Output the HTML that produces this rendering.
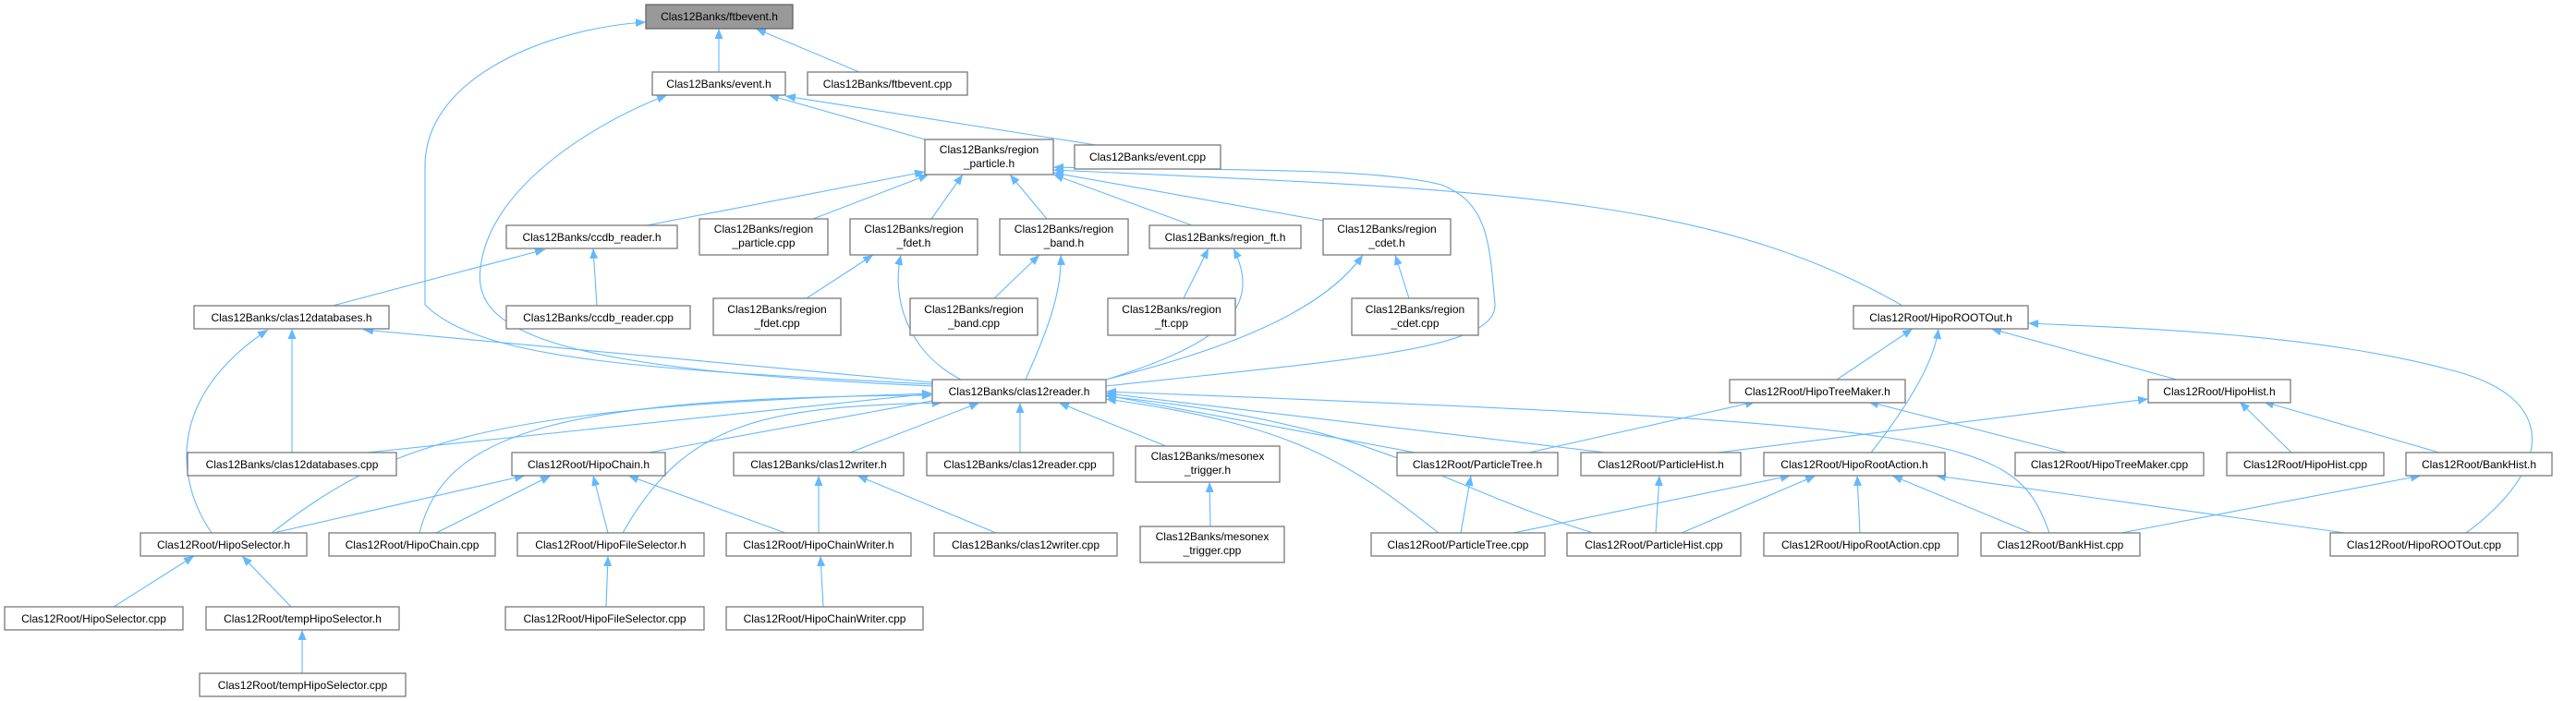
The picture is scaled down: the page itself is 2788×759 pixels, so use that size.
<!DOCTYPE html>
<html><head><meta charset="utf-8"><style>
html,body{margin:0;padding:0;background:#fff;}
svg{display:block;}
text{font-family:"Liberation Sans",Arial,sans-serif;font-size:12px;fill:#000;text-anchor:middle;}
.b{fill:#fff;stroke:#7a7a7a;stroke-width:1.3;}
.e{fill:none;stroke:#63b8ff;stroke-width:1.1;marker-end:url(#a);}
</style></head><body>
<svg width="2788" height="759" viewBox="0 0 2788 759" xmlns="http://www.w3.org/2000/svg">
<defs><marker id="a" markerUnits="userSpaceOnUse" markerWidth="12" markerHeight="10" refX="11" refY="4.5" orient="auto"><path d="M0,0 L11,4.5 L0,9 z" fill="#63b8ff"/></marker></defs>
<g>
<path class="e" d="M778,78 L778,31"/>
<path class="e" d="M930,78 L818,31"/>
<path class="e" d="M1009,416 C700,400 520,390 460,330 L460,180 C460,80 600,30 699,24"/>
<path class="e" d="M1009,418 C600,400 510,360 520,290 C530,200 650,130 722,103"/>
<path class="e" d="M1001,151 L832,103"/>
<path class="e" d="M1186,157 L850,104"/>
<path class="e" d="M700,244 L1001,186"/>
<path class="e" d="M880,237 L1005,189"/>
<path class="e" d="M1008,237 L1042,189"/>
<path class="e" d="M1133,237 L1093,189"/>
<path class="e" d="M1290,244 L1140,189"/>
<path class="e" d="M1432,239 L1140,187"/>
<path class="e" d="M2059,331 C1850,210 1600,205 1140,184"/>
<path class="e" d="M1197,418 C1450,390 1620,380 1618,330 C1612,260 1610,220 1560,200 C1480,180 1300,185 1140,181"/>
<path class="e" d="M360,331 L590,270"/>
<path class="e" d="M646,331 L642,269"/>
<path class="e" d="M873,323 L945,276"/>
<path class="e" d="M1040,411 C980,380 965,320 975,276"/>
<path class="e" d="M1076,323 L1125,276"/>
<path class="e" d="M1110,411 C1128,370 1150,320 1148,276"/>
<path class="e" d="M1281,323 L1308,269"/>
<path class="e" d="M1197,411 C1330,370 1365,330 1335,269"/>
<path class="e" d="M1525,323 L1510,276"/>
<path class="e" d="M1197,411 C1320,380 1430,340 1475,276"/>
<path class="e" d="M1009,414 L393,357"/>
<path class="e" d="M316,490 L316,356"/>
<path class="e" d="M229,577 C190,520 180,430 290,357"/>
<path class="e" d="M1988,411 L2070,356"/>
<path class="e" d="M2025,490 C2080,420 2095,380 2098,356"/>
<path class="e" d="M2356,411 L2155,356"/>
<path class="e" d="M2669,577 C2760,510 2775,430 2650,400 C2500,360 2300,355 2195,350"/>
<path class="e" d="M397,490 L1009,426"/>
<path class="e" d="M702,490 L1020,432"/>
<path class="e" d="M920,490 L1060,436"/>
<path class="e" d="M1104,490 L1104,436"/>
<path class="e" d="M1262,483 L1146,436"/>
<path class="e" d="M294,577 C420,480 520,440 1009,426"/>
<path class="e" d="M454,577 C480,470 600,430 1009,428"/>
<path class="e" d="M674,577 C740,460 820,440 1020,436"/>
<path class="e" d="M1532,490 L1197,428"/>
<path class="e" d="M1738,490 L1197,426"/>
<path class="e" d="M1557,577 C1460,500 1400,460 1197,432"/>
<path class="e" d="M1724,577 C1540,520 1500,460 1197,429"/>
<path class="e" d="M2218,577 C2180,470 2130,460 1197,424"/>
<path class="e" d="M296,577 L568,515"/>
<path class="e" d="M472,577 L596,515"/>
<path class="e" d="M658,577 L642,515"/>
<path class="e" d="M850,577 L680,515"/>
<path class="e" d="M886,577 L886,515"/>
<path class="e" d="M1078,577 L928,515"/>
<path class="e" d="M1310,570 L1309,522"/>
<path class="e" d="M123,657 L210,602"/>
<path class="e" d="M315,657 L262,602"/>
<path class="e" d="M327,729 L327,682"/>
<path class="e" d="M656,657 L658,602"/>
<path class="e" d="M891,657 L888,602"/>
<path class="e" d="M1655,490 L1900,435"/>
<path class="e" d="M2237,490 L2022,435"/>
<path class="e" d="M1859,490 L2325,432"/>
<path class="e" d="M2480,490 L2424,435"/>
<path class="e" d="M2640,490 L2450,435"/>
<path class="e" d="M1581,577 L1592,515"/>
<path class="e" d="M1792,577 L1796,515"/>
<path class="e" d="M1638,577 L1938,515"/>
<path class="e" d="M1820,577 L1965,515"/>
<path class="e" d="M2013,577 L2010,515"/>
<path class="e" d="M2198,577 L2048,515"/>
<path class="e" d="M2538,577 L2095,515"/>
<path class="e" d="M2296,577 L2620,515"/>
</g>
<g>
<rect x="699" y="5" width="159" height="26" fill="#999" stroke="#666" stroke-width="1.3"/><text x="778.5" y="22">Clas12Banks/ftbevent.h</text>
<rect class="b" x="706" y="78" width="144" height="25"/><text x="778" y="95">Clas12Banks/event.h</text>
<rect class="b" x="874" y="78" width="173" height="25"/><text x="960.5" y="95">Clas12Banks/ftbevent.cpp</text>
<rect class="b" x="1001" y="151" width="139" height="38"/><text x="1070.5" y="166">Clas12Banks/region</text><text x="1070.5" y="181">_particle.h</text>
<rect class="b" x="1163" y="157" width="158" height="26"/><text x="1242" y="174">Clas12Banks/event.cpp</text>
<rect class="b" x="548" y="244" width="185" height="25"/><text x="640.5" y="261">Clas12Banks/ccdb_reader.h</text>
<rect class="b" x="757" y="237" width="139" height="39"/><text x="826.5" y="252">Clas12Banks/region</text><text x="826.5" y="267">_particle.cpp</text>
<rect class="b" x="920" y="237" width="138" height="39"/><text x="989" y="252">Clas12Banks/region</text><text x="989" y="267">_fdet.h</text>
<rect class="b" x="1082" y="237" width="139" height="39"/><text x="1151.5" y="252">Clas12Banks/region</text><text x="1151.5" y="267">_band.h</text>
<rect class="b" x="1244" y="244" width="164" height="25"/><text x="1326" y="261">Clas12Banks/region_ft.h</text>
<rect class="b" x="1432" y="237" width="138" height="39"/><text x="1501" y="252">Clas12Banks/region</text><text x="1501" y="267">_cdet.h</text>
<rect class="b" x="210" y="331" width="211" height="25"/><text x="315.5" y="348">Clas12Banks/clas12databases.h</text>
<rect class="b" x="548" y="331" width="199" height="25"/><text x="647.5" y="348">Clas12Banks/ccdb_reader.cpp</text>
<rect class="b" x="772" y="323" width="138" height="40"/><text x="841" y="339">Clas12Banks/region</text><text x="841" y="354">_fdet.cpp</text>
<rect class="b" x="985" y="323" width="138" height="40"/><text x="1054" y="339">Clas12Banks/region</text><text x="1054" y="354">_band.cpp</text>
<rect class="b" x="1199" y="323" width="138" height="40"/><text x="1268" y="339">Clas12Banks/region</text><text x="1268" y="354">_ft.cpp</text>
<rect class="b" x="1463" y="323" width="137" height="40"/><text x="1531.5" y="339">Clas12Banks/region</text><text x="1531.5" y="354">_cdet.cpp</text>
<rect class="b" x="2006" y="331" width="189" height="25"/><text x="2100.5" y="348">Clas12Root/HipoROOTOut.h</text>
<rect class="b" x="1009" y="411" width="188" height="25"/><text x="1103" y="428">Clas12Banks/clas12reader.h</text>
<rect class="b" x="1872" y="411" width="190" height="25"/><text x="1967" y="428">Clas12Root/HipoTreeMaker.h</text>
<rect class="b" x="2325" y="411" width="154" height="25"/><text x="2402" y="428">Clas12Root/HipoHist.h</text>
<rect class="b" x="203" y="490" width="226" height="25"/><text x="316" y="507">Clas12Banks/clas12databases.cpp</text>
<rect class="b" x="554" y="490" width="166" height="25"/><text x="637" y="507">Clas12Root/HipoChain.h</text>
<rect class="b" x="794" y="490" width="184" height="25"/><text x="886" y="507">Clas12Banks/clas12writer.h</text>
<rect class="b" x="1003" y="490" width="202" height="25"/><text x="1104" y="507">Clas12Banks/clas12reader.cpp</text>
<rect class="b" x="1229" y="483" width="156" height="39"/><text x="1307" y="498">Clas12Banks/mesonex</text><text x="1307" y="513">_trigger.h</text>
<rect class="b" x="1512" y="490" width="174" height="25"/><text x="1599" y="507">Clas12Root/ParticleTree.h</text>
<rect class="b" x="1711" y="490" width="173" height="25"/><text x="1797.5" y="507">Clas12Root/ParticleHist.h</text>
<rect class="b" x="1909" y="490" width="196" height="25"/><text x="2007" y="507">Clas12Root/HipoRootAction.h</text>
<rect class="b" x="2181" y="490" width="204" height="25"/><text x="2283" y="507">Clas12Root/HipoTreeMaker.cpp</text>
<rect class="b" x="2410" y="490" width="170" height="25"/><text x="2495" y="507">Clas12Root/HipoHist.cpp</text>
<rect class="b" x="2604" y="490" width="158" height="25"/><text x="2683" y="507">Clas12Root/BankHist.h</text>
<rect class="b" x="152" y="577" width="180" height="25"/><text x="242" y="594">Clas12Root/HipoSelector.h</text>
<rect class="b" x="356" y="577" width="180" height="25"/><text x="446" y="594">Clas12Root/HipoChain.cpp</text>
<rect class="b" x="560" y="577" width="202" height="25"/><text x="661" y="594">Clas12Root/HipoFileSelector.h</text>
<rect class="b" x="786" y="577" width="200" height="25"/><text x="886" y="594">Clas12Root/HipoChainWriter.h</text>
<rect class="b" x="1011" y="577" width="198" height="25"/><text x="1110" y="594">Clas12Banks/clas12writer.cpp</text>
<rect class="b" x="1234" y="570" width="156" height="39"/><text x="1312" y="585">Clas12Banks/mesonex</text><text x="1312" y="600">_trigger.cpp</text>
<rect class="b" x="1484" y="577" width="188" height="25"/><text x="1578" y="594">Clas12Root/ParticleTree.cpp</text>
<rect class="b" x="1696" y="577" width="188" height="25"/><text x="1790" y="594">Clas12Root/ParticleHist.cpp</text>
<rect class="b" x="1909" y="577" width="210" height="25"/><text x="2014" y="594">Clas12Root/HipoRootAction.cpp</text>
<rect class="b" x="2144" y="577" width="172" height="25"/><text x="2230" y="594">Clas12Root/BankHist.cpp</text>
<rect class="b" x="2522" y="577" width="203" height="25"/><text x="2623.5" y="594">Clas12Root/HipoROOTOut.cpp</text>
<rect class="b" x="5" y="657" width="193" height="25"/><text x="101.5" y="674">Clas12Root/HipoSelector.cpp</text>
<rect class="b" x="223" y="657" width="209" height="25"/><text x="327.5" y="674">Clas12Root/tempHipoSelector.h</text>
<rect class="b" x="547" y="657" width="215" height="25"/><text x="654.5" y="674">Clas12Root/HipoFileSelector.cpp</text>
<rect class="b" x="786" y="657" width="213" height="25"/><text x="892.5" y="674">Clas12Root/HipoChainWriter.cpp</text>
<rect class="b" x="216" y="729" width="223" height="25"/><text x="327.5" y="746">Clas12Root/tempHipoSelector.cpp</text>
</g>
</svg>
</body></html>
